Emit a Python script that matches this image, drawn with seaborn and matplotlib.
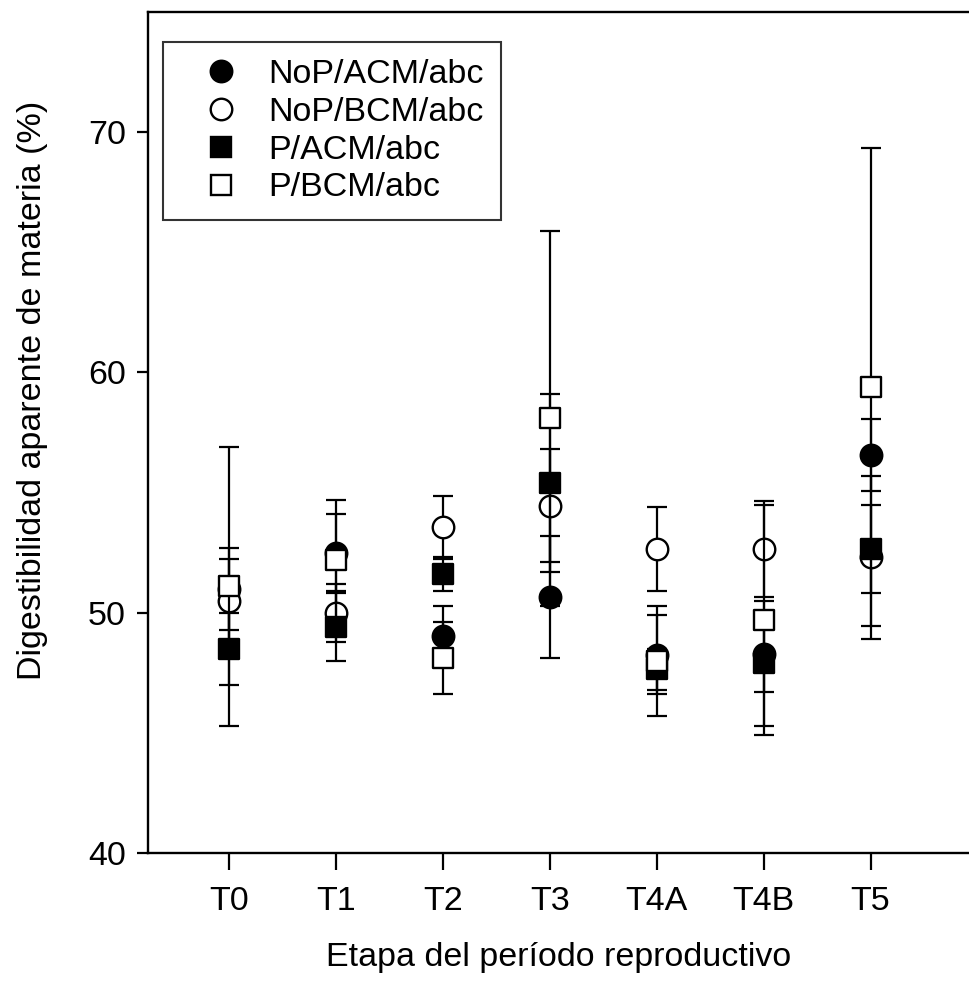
import numpy as np
import pandas as pd
import matplotlib
matplotlib.use("Agg")
import matplotlib.pyplot as plt
import seaborn as sns
from matplotlib.lines import Line2D

stages = ["T0", "T1", "T2", "T3", "T4A", "T4B", "T5"]

nop_acm = [51.0, 52.5, 49.05, 50.65, 48.25, 48.3, 56.55]
nop_acm_err = [1.7, 1.6, 1.25, 2.55, 1.65, 1.6, 1.5]

nop_bcm = [50.5, 50.0, 53.55, 54.45, 52.65, 52.65, 52.3]
nop_bcm_err = [1.75, 1.2, 1.3, 2.35, 1.75, 2.0, 3.4]

p_acm = [48.5, 49.4, 51.6, 55.4, 47.65, 47.9, 52.65]
p_acm_err = [1.5, 1.4, 0.7, 3.7, 0.85, 2.6, 1.85]

p_bcm = [51.1, 52.2, 48.1, 58.1, 48.0, 49.7, 59.4]
p_bcm_err = [5.8, 2.5, 1.5, 7.8, 2.3, 4.8, 9.95]

series_names = ["NoP/ACM/abc", "NoP/BCM/abc", "P/ACM/abc", "P/BCM/abc"]

frames = []
for name, vals, errs in zip(series_names,
                            [nop_acm, nop_bcm, p_acm, p_bcm],
                            [nop_acm_err, nop_bcm_err, p_acm_err, p_bcm_err]):
    frames.append(pd.DataFrame({"stage": stages, "pos": np.arange(len(stages)),
                                "value": vals, "err": errs, "series": name}))
df = pd.concat(frames, ignore_index=True)

sns.set_style("ticks")
plt.rcParams['font.family'] = ['Liberation Sans', 'DejaVu Sans']
FS = 24.5

fig = plt.figure(figsize=(9.69, 9.83), dpi=100)
ax = fig.add_axes([148/969, 1-853/983, 1-148/969, (853-12)/983])

styles = {
    "NoP/ACM/abc": dict(marker="o", fc="black", ms=15.5),
    "NoP/BCM/abc": dict(marker="o", fc="white", ms=15.5),
    "P/ACM/abc": dict(marker="s", fc="black", ms=14),
    "P/BCM/abc": dict(marker="s", fc="white", ms=14),
}

z = 2
for name in series_names:
    d = df[df["series"] == name]
    st = styles[name]
    ax.errorbar(d["pos"], d["value"], yerr=d["err"], fmt="none",
                ecolor="black", elinewidth=1.6, capsize=7, capthick=1.6, zorder=z)
    sns.scatterplot(data=d, x="pos", y="value", ax=ax, marker=st["marker"],
                    s=st["ms"] ** 2, color=st["fc"], edgecolor="black",
                    linewidth=1.7, zorder=z + 1, legend=False)
    z += 2

ax.set_xlim(-0.757, 6.92)
ax.set_ylim(40, 75)
ax.set_xticks(np.arange(len(stages)))
ax.set_xticklabels(stages)
ax.set_yticks([40, 50, 60, 70])
ax.tick_params(axis="both", direction="out", labelsize=FS, width=1.6, colors="black")
ax.tick_params(axis="x", length=12, pad=12)
ax.tick_params(axis="y", length=8, pad=8)
for s in ["left", "top", "bottom"]:
    ax.spines[s].set_linewidth(1.7)
    ax.spines[s].set_color("black")
ax.spines["right"].set_visible(False)

ax.set_xlabel("Etapa del período reproductivo", fontsize=FS, labelpad=18, color="black")
ax.set_ylabel("Digestibilidad aparente de materia (%)", fontsize=FS, color="black")
ax.yaxis.set_label_coords(-0.122, 0.55)

handles = []
for name in series_names:
    st = styles[name]
    handles.append(Line2D([], [], linestyle="none", marker=st["marker"],
                          markersize=st["ms"], markerfacecolor=st["fc"],
                          markeredgecolor="black", markeredgewidth=1.7))
leg = ax.legend(handles, series_names, loc="upper left",
                bbox_to_anchor=(163/969, 1-42/983), bbox_transform=fig.transFigure,
                fontsize=FS, frameon=True, fancybox=False, borderaxespad=0,
                handlelength=2.4, handletextpad=0.2, labelspacing=0.2,
                borderpad=0.5)
leg.get_frame().set_edgecolor("black")
leg.get_frame().set_linewidth(1.5)
for t in leg.get_texts():
    t.set_color("black")

fig.savefig("out.png", dpi=100, facecolor="white")
